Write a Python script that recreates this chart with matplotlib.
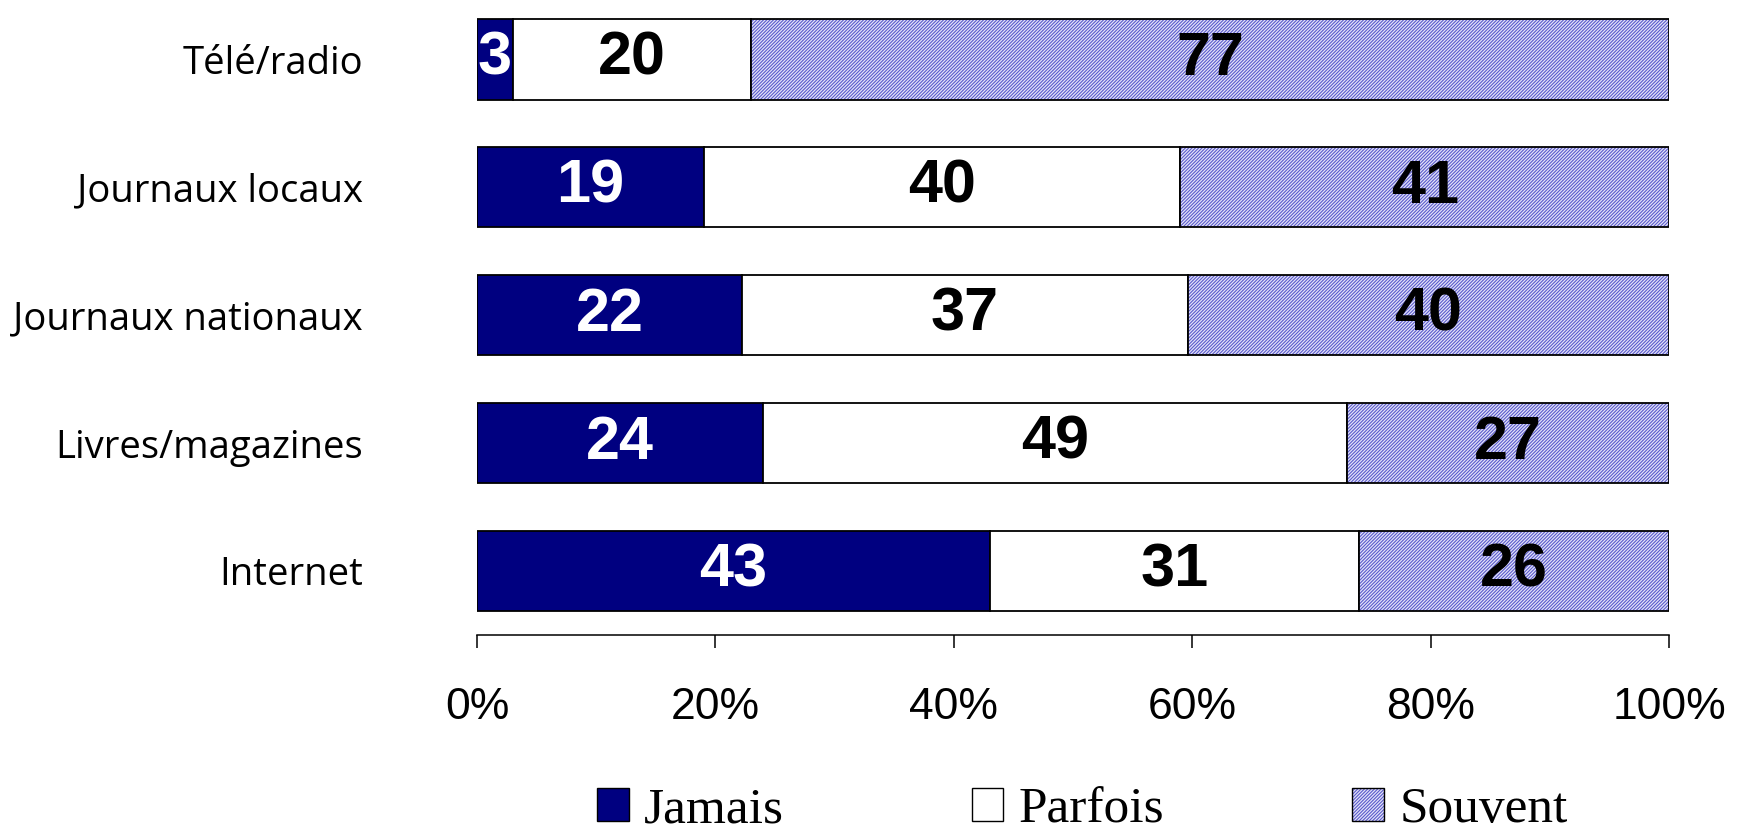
import numpy as np
import matplotlib
matplotlib.use('Agg')
import matplotlib.pyplot as plt
from matplotlib.patches import Patch

categories = ['Télé/radio', 'Journaux locaux', 'Journaux nationaux', 'Livres/magazines', 'Internet']
jamais = [3, 19, 22, 24, 43]
parfois = [20, 40, 37, 49, 31]
souvent = [77, 41, 40, 27, 26]
series_names = ['Jamais', 'Parfois', 'Souvent']
tick_labels = ['0%', '20%', '40%', '60%', '80%', '100%']

plt.rcParams['hatch.linewidth'] = 0.8
hatch_col = '#5a5acc'

fig = plt.figure(figsize=(17.37, 8.30), dpi=100)
ax = fig.add_axes([0.2746, 0.235, 0.9610 - 0.2746, 0.7445])

vals = np.array([jamais, parfois, souvent], dtype=float)
pct = vals / vals.sum(axis=0) * 100
y = np.arange(len(categories))[::-1]
h = 0.63

colors = ['#000080', 'white', '#e4e4f8']
hatches = [None, None, '//////////']
txt_col = ['white', 'black', 'black']

left = np.zeros(len(categories))
for k in range(3):
    if hatches[k]:
        # hatch takes the edge colour, so draw fill and outline separately
        ax.barh(y, pct[k], height=h, left=left, color=colors[k], hatch=hatches[k],
                edgecolor=hatch_col, linewidth=0)
        ax.barh(y, pct[k], height=h, left=left, fill=False, edgecolor='black', linewidth=1.3)
    else:
        ax.barh(y, pct[k], height=h, left=left, color=colors[k], edgecolor='black', linewidth=1.3)
    for i in range(len(categories)):
        ax.text(left[i] + pct[k][i] / 2, y[i], str(int(vals[k][i])), ha='center', va='center',
                color=txt_col[k], fontsize=44, fontweight='bold', family='Liberation Sans')
    left += pct[k]

ax.set_xlim(0, 100)
ax.set_ylim(-0.5, 4.33)
ax.set_yticks(y)
ax.set_yticklabels(categories, family='Open Sans', fontsize=27.5)
ax.tick_params(axis='y', length=0, pad=82)
ax.set_xticks([0, 20, 40, 60, 80, 100])
ax.set_xticklabels(tick_labels, family='Liberation Sans', fontsize=32)
ax.tick_params(axis='x', length=9.5, width=1.1, pad=28, direction='out')
for s in ['top', 'right', 'left']:
    ax.spines[s].set_visible(False)
ax.spines['bottom'].set_linewidth(1.1)

handles = []
for k in range(3):
    if hatches[k]:
        handles.append((Patch(facecolor=colors[k], hatch=hatches[k], edgecolor=hatch_col, linewidth=0),
                        Patch(fill=False, edgecolor='black', linewidth=1.0)))
    else:
        handles.append(Patch(facecolor=colors[k], edgecolor='black', linewidth=1.0))
fig.legend(handles=handles, labels=series_names, loc='center', bbox_to_anchor=(0.623, 0.024), ncol=3,
           frameon=False, prop={'family': 'Liberation Serif', 'size': 37}, handlelength=0.62,
           handleheight=0.6, handletextpad=0.3, columnspacing=3.65)

plt.savefig('out.png', dpi=100)
